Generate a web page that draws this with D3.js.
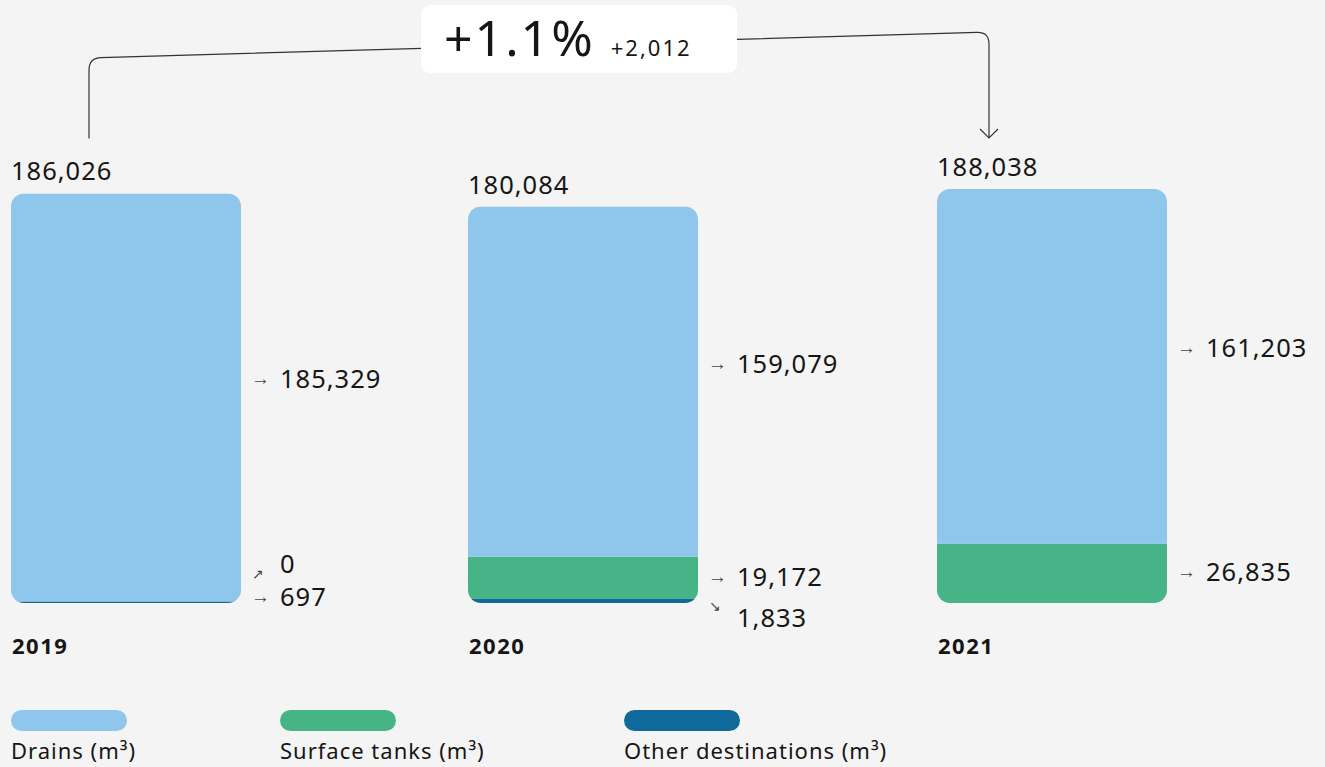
<!DOCTYPE html>
<html><head><meta charset="utf-8">
<script src="https://cdn.jsdelivr.net/npm/d3@7"></script>
<style>
html,body{margin:0;padding:0;background:#f4f4f4;}
svg{display:block;font-family:"Noto Sans",sans-serif;}
</style></head><body>
<svg id="chart" width="1325" height="767"></svg>
<script>
// ---- data ----
const years = ["2019", "2020", "2021"];
const drains = [185329, 159079, 161203];
const surfaceTanks = [0, 19172, 26835];
const otherDest = [697, 1833, null];
const totals = [186026, 180084, 188038];
const changePct = "+1.1%";
const changeAbs = "+2,012";
const legendNames = ["Drains (m³)", "Surface tanks (m³)", "Other destinations (m³)"];
const legendKeys = ["drains", "surface", "other"];
const colors = {drains: "#8fc7ec", surface: "#46b487", other: "#10699b"};

// ---- layout ----
const svg = d3.select("#chart");
const W = 1325, H = 767;
svg.append("rect").attr("width", W).attr("height", H).attr("fill", "#f4f4f4");
const barW = 230;
const x = d3.scaleOrdinal().domain(years).range([11, 468, 937]);
const y = d3.scaleLinear().domain([0, d3.max(totals)]).range([603, 189]);
const fmt = d3.format(",");

const rows = years.map((yr, i) => ({
  year: yr, i,
  other: otherDest[i] == null ? 0 : otherDest[i],
  surface: surfaceTanks[i] == null ? 0 : surfaceTanks[i],
  drains: drains[i] == null ? 0 : drains[i]
}));
const raw = {drains, surface: surfaceTanks, other: otherDest};
const stackKeys = ["other", "surface", "drains"];
const stacked = d3.stack().keys(stackKeys)(rows);

const defs = svg.append("defs");
rows.forEach(r => {
  defs.append("clipPath").attr("id", "clip" + r.year)
    .append("rect")
    .attr("x", x(r.year)).attr("y", y(totals[r.i]))
    .attr("width", barW).attr("height", y(0) - y(totals[r.i]))
    .attr("rx", 13).attr("ry", 13);
});

const bars = svg.append("g");
stacked.forEach(layer => {
  layer.forEach((d, i) => {
    const yr = years[i];
    bars.append("rect")
      .attr("clip-path", `url(#clip${yr})`)
      .attr("x", x(yr)).attr("width", barW)
      .attr("y", y(d[1])).attr("height", Math.max(0, y(d[0]) - y(d[1])))
      .attr("fill", colors[layer.key]);
  });
});

// totals labels
const valStyle = sel => sel.attr("font-size", 25.5).attr("letter-spacing", 1).attr("fill", "#161616");
rows.forEach(r => {
  svg.append("text").call(valStyle)
    .attr("x", x(r.year)).attr("y", y(totals[r.i]) - 13)
    .text(fmt(totals[r.i]));
  svg.append("text")
    .attr("x", x(r.year) + 1).attr("y", 654)
    .attr("font-size", 22).attr("font-weight", 700).attr("letter-spacing", 1.5)
    .attr("fill", "#161616").text(r.year);
});

// segment labels
const lab = svg.append("g");
function segLabel(yr, cy, arrow, value, ay) {
  const bx = x(yr) + barW;
  const diag = arrow !== "→";
  lab.append("text").attr("x", bx + (diag ? 11 : 10)).attr("y", ay == null ? cy : ay)
    .attr("dominant-baseline", "central").style("font-size", diag ? "14px" : "19px")
    .attr("fill", "#444")
    .text(arrow);
  lab.append("text").call(valStyle).attr("x", bx + 39).attr("y", cy)
    .attr("dominant-baseline", "central").text(fmt(value));
}
rows.forEach(r => {
  const i = r.i;
  const segs = stacked.map(layer => ({
    key: layer.key, v: raw[layer.key][i],
    top: y(layer[i][1]), bot: y(layer[i][0])
  })).filter(s => s.v != null);
  const bottom = y(0);
  const smallBottom = [];
  segs.forEach((s, k) => {
    const h = s.bot - s.top;
    if (h >= 20) {
      const mid = (s.top + s.bot) / 2;
      segLabel(r.year, s.key === "drains" ? mid - 19 : mid - 2, "→", s.v);
    } else {
      const above = segs[k + 1];
      if (above && above.bot - above.top >= 20 && smallBottom.length === 0) {
        segLabel(r.year, bottom + 14, "↘", s.v, bottom + 2);
      } else {
        smallBottom.push(s);
      }
    }
  });
  smallBottom.forEach((s, k) => {
    if (k === 0) segLabel(r.year, bottom - 7, "→", s.v);
    else segLabel(r.year, bottom - 7 - 33 * k, "↗", s.v, bottom - 30);
  });
});

// change connector
const first = years[0], last = years[years.length - 1];
const x1 = x(first) + 78, x2 = x(last) + 52;
const y1b = y(totals[0]) - 13 - 42, y2b = y(totals[totals.length - 1]) - 13 - 38;
const hy1 = 58, hy2 = 32, r0 = 12;
const conn = svg.append("g").attr("fill", "none").attr("stroke", "#333").attr("stroke-width", 1.2);
conn.append("path").attr("d",
  `M${x1},${y1b} V${hy1 + r0} Q${x1},${hy1} ${x1 + r0},${hy1 - 0.4} L${x2 - r0},${hy2 + 0.4} Q${x2},${hy2} ${x2},${hy2 + r0} V${y2b}`);
conn.append("path").attr("d", `M${x2 - 9},${y2b - 9} L${x2},${y2b} L${x2 + 9},${y2b - 9}`);

const box = svg.append("g");
const bxL = 421, bxT = 5;
box.append("rect").attr("x", bxL).attr("y", bxT).attr("width", 316).attr("height", 68)
  .attr("rx", 9).attr("fill", "#ffffff");
const big = box.append("text").attr("x", bxL + 23).attr("y", bxT + 51)
  .attr("font-size", 50).attr("letter-spacing", 2).attr("fill", "#161616").text(changePct);
const bigW = big.node().getComputedTextLength();
box.append("text").attr("x", bxL + 23 + bigW + 16).attr("y", bxT + 51)
  .attr("font-size", 22).attr("letter-spacing", 2).attr("fill", "#161616").text(changeAbs);

// legend
const legX = [11, 280, 624];
legendKeys.forEach((k, i) => {
  svg.append("rect").attr("x", legX[i]).attr("y", 710).attr("width", 116).attr("height", 21)
    .attr("rx", 10.5).attr("fill", colors[k]);
  svg.append("text").attr("x", legX[i]).attr("y", 759)
    .attr("font-size", 22).attr("letter-spacing", 1).attr("fill", "#161616").text(legendNames[i]);
});
</script>
</body></html>
